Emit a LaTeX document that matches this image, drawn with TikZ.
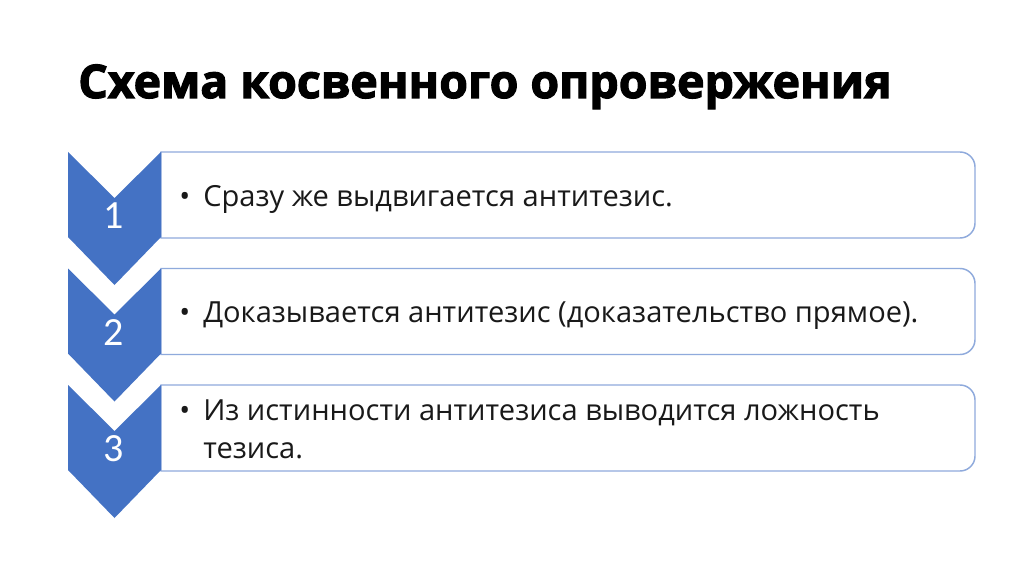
\documentclass[tikz,border=0pt]{standalone}
\usepackage{fontspec}
\setmainfont{Open Sans}
\newfontfamily\titlefont{Open Sans}[BoldFeatures={FakeBold=2.5}]
\newfontfamily\numfont{Carlito}
\usetikzlibrary{calc}
\definecolor{chevblue}{HTML}{4472C4}
\definecolor{boxline}{HTML}{8FAADC}
\begin{document}
\begin{tikzpicture}[x=0.75pt,y=-0.75pt]
	\tikzstyle{chevron} = [fill=chevblue, draw=none]
	\tikzstyle{stepbox} = [draw=boxline, line width=1.1pt, fill=white]
	\tikzstyle{steptext} = [anchor=base west, inner sep=0pt, align=left, font=\fontsize{21.8}{28.5}\selectfont, text=black!90]
	\tikzstyle{stepnum} = [inner sep=0pt, font=\numfont\fontsize{30}{30}\selectfont, text=white]
	\useasboundingbox[fill=white] (0,0) rectangle (1024,574);
	\node[anchor=base west, inner sep=0pt, font=\titlefont\bfseries\fontsize{34.8}{40}\selectfont] (title) at (78,98) {Схема косвенного опровержения};
	\foreach \i/\bb/\by/\txt in {1/54/54/{Сразу же выдвигается антитезис.}, 2/54/54/{Доказывается антитезис (доказательство прямое).}, 3/35/73/{Из истинности антитезиса выводится ложность\\тезиса.}} {
		\pgfmathsetmacro{\y}{152+(\i-1)*116.5}
		\draw[stepbox] (161,\y) -- (960,\y) arc[start angle=-90, end angle=0, radius=15] -- (975,\y+71) arc[start angle=0, end angle=90, radius=15] -- (161,\y+86) -- cycle;
		\fill[chevron] (68,\y) -- (114.5,\y+46) -- (161,\y) -- (161,\y+85) -- (114.5,\y+133) -- (68,\y+85) -- cycle;
		\node[stepnum] (n\i) at (114,\y+64) {\i};
		\node[steptext] (b\i) at (179,\y+\bb) {\textbullet};
		\node[steptext] (t\i) at (203,\y+\by) {\txt};
	}
\end{tikzpicture}
\end{document}
